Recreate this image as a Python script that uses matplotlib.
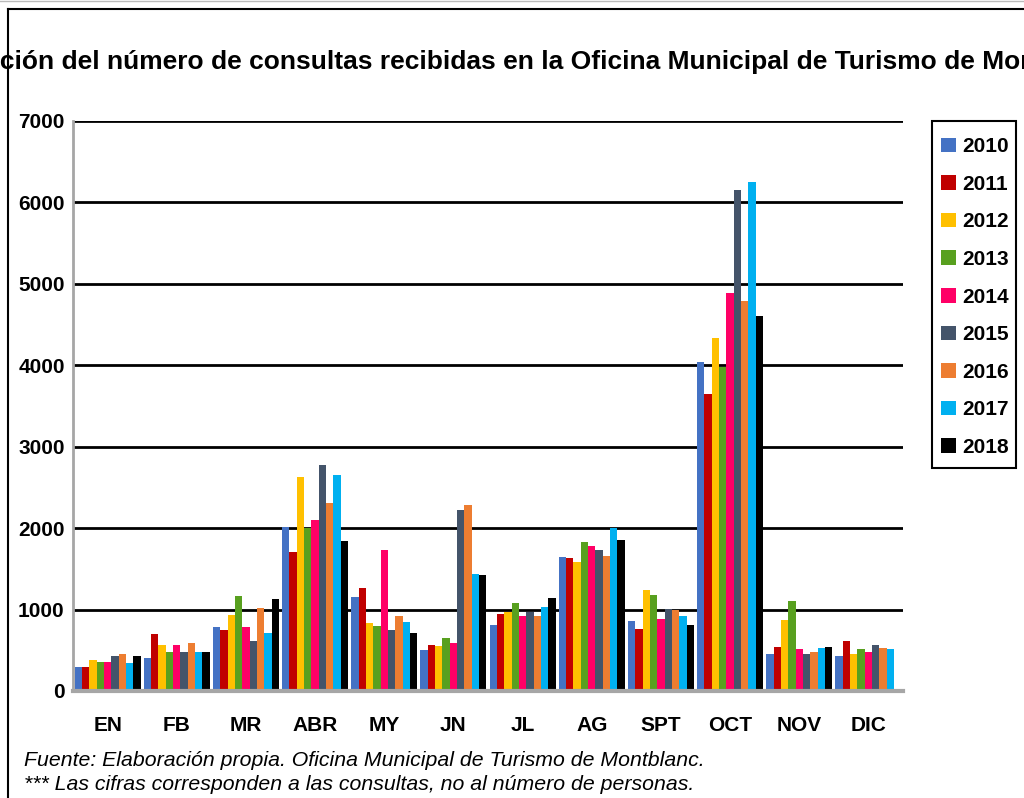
import numpy as np
import matplotlib
matplotlib.use('Agg')
import matplotlib.pyplot as plt
from matplotlib import font_manager
from matplotlib.lines import Line2D
from matplotlib.patches import Rectangle

# data
months = ['EN', 'FB', 'MR', 'ABR', 'MY', 'JN', 'JL', 'AG', 'SPT', 'OCT', 'NOV', 'DIC']
years = ['2010', '2011', '2012', '2013', '2014', '2015', '2016', '2017', '2018']
y2010 = [290, 400, 780, 2015, 1155, 505, 805, 1650, 855, 4045, 450, 435]
y2011 = [300, 695, 745, 1710, 1265, 565, 940, 1635, 765, 3650, 545, 620]
y2012 = [385, 560, 930, 2630, 835, 555, 965, 1590, 1245, 4340, 870, 460]
y2013 = [360, 475, 1165, 2005, 800, 650, 1075, 1835, 1185, 3975, 1100, 510]
y2014 = [360, 570, 780, 2100, 1735, 590, 925, 1785, 890, 4885, 510, 475]
y2015 = [435, 485, 610, 2780, 750, 2225, 965, 1735, 1010, 6150, 450, 560]
y2016 = [450, 585, 1015, 2310, 920, 2290, 915, 1660, 990, 4795, 475, 525]
y2017 = [350, 475, 710, 2655, 850, 1440, 1035, 2005, 925, 6245, 525, 510]
y2018 = [425, 485, 1130, 1845, 715, 1425, 1145, 1855, 815, 4600, 545, np.nan]
series = [y2010, y2011, y2012, y2013, y2014, y2015, y2016, y2017, y2018]
colors = ['#4472C4', '#C00000', '#FFC000', '#58A01F', '#FF0066',
          '#44546A', '#ED7D31', '#00B0F0', '#000000']

title = ('Evolución del número de consultas recibidas en la Oficina '
         'Municipal de Turismo de Montblanc')
note1 = 'Fuente: Elaboración propia. Oficina Municipal de Turismo de Montblanc.'
note2 = '*** Las cifras corresponden a las consultas, no al número de personas.'

names = {f.name for f in font_manager.fontManager.ttflist}
narrow = 'Liberation Sans Narrow' if 'Liberation Sans Narrow' in names else 'Liberation Sans'
plt.rcParams['font.family'] = ['Liberation Sans', 'DejaVu Sans']

W, H = 1024, 798
fig = plt.figure(figsize=(W / 100, H / 100), dpi=100)
ax = fig.add_axes([73 / W, 1 - 691 / H, (903 - 73) / W, (691 - 121) / H])

x = np.arange(len(months))
bw = 0.106
n = len(series)
for i, (vals, c) in enumerate(zip(series, colors)):
    ax.bar(x + (i - (n - 1) / 2) * bw, vals, width=bw, color=c,
           label=years[i], zorder=3)

ax.set_xlim(-0.5, len(months) - 0.5)
ax.set_ylim(0, 7000)
ax.set_yticks(range(0, 7001, 1000))
ax.set_xticks(x)
ax.set_xticklabels(months)
ax.yaxis.grid(True, color='black', lw=2, zorder=1)
ax.tick_params(length=0, labelsize=15)
ax.tick_params(axis='x', pad=18)
ax.tick_params(axis='y', pad=6)
for lab in ax.get_xticklabels() + ax.get_yticklabels():
    lab.set_fontweight('bold')
for s in ['top', 'right']:
    ax.spines[s].set_visible(False)
ax.spines['left'].set_color('#A6A6A6')
ax.spines['left'].set_linewidth(2)
ax.spines['bottom'].set_color('#A6A6A6')
ax.spines['bottom'].set_linewidth(3)
ax.spines['bottom'].set_zorder(4)

# legend entries without frame, box drawn separately
leg = fig.legend(loc='upper left', bbox_to_anchor=(932 / W, 1 - 128 / H),
                 borderaxespad=0, frameon=False,
                 prop={'weight': 'bold', 'size': 15}, handlelength=0.7,
                 handleheight=0.7, handletextpad=0.3, labelspacing=0.89,
                 borderpad=0.45)
fig.add_artist(Rectangle((932 / W, 1 - 468 / H), 84 / W, 347 / H,
                         transform=fig.transFigure, fill=False,
                         edgecolor='black', lw=1.5))

# title cropped at both sides as in the reference
renderer = fig.canvas.get_renderer()
probe = fig.text(0, 0, 'Evolu', fontsize=19, fontweight='bold', family=narrow)
pw = probe.get_window_extent(renderer).width
probe.remove()
fig.text(-pw / W, 1 - 62 / H, title, fontsize=19, fontweight='bold',
         family=narrow, ha='left', va='center')

fig.text(24 / W, 1 - 760 / H, note1, fontsize=15.3, style='italic', va='center')
fig.text(24 / W, 1 - 784 / H, note2, fontsize=15.3, style='italic', va='center')

# outer frame of the original chart
fig.add_artist(Line2D([8 / W, 8 / W], [0, 1 - 9 / H], color='black', lw=1.5))
fig.add_artist(Line2D([8 / W, 1], [1 - 9 / H, 1 - 9 / H], color='black', lw=1.5))
fig.add_artist(Line2D([0, 1], [1 - 1 / H, 1 - 1 / H], color='#BBBBBB', lw=1))

fig.savefig('out.png', dpi=100)
